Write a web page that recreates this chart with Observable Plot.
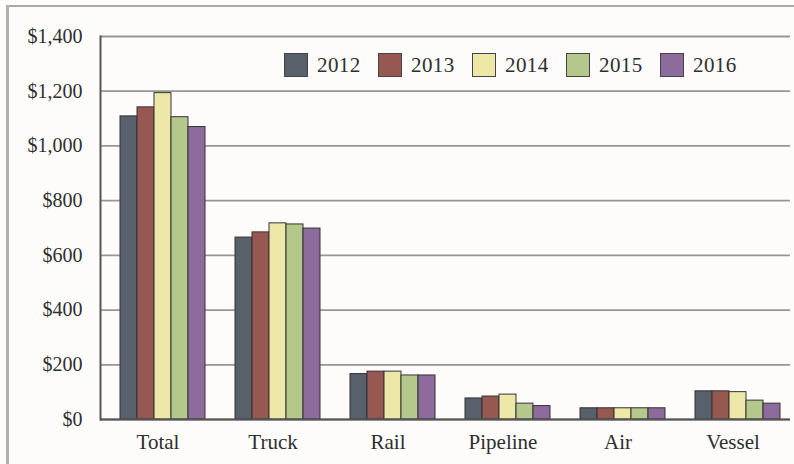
<!DOCTYPE html>
<html>
<head>
<meta charset="utf-8">
<script src="https://cdn.jsdelivr.net/npm/d3@7"></script>
<script src="https://cdn.jsdelivr.net/npm/@observablehq/plot@0.6"></script>
<style>
  html, body { margin: 0; padding: 0; background: #fdfcfa; }
  #wrap { position: relative; width: 794px; height: 464px; background: #fdfcfa; overflow: hidden; }
  .bTop { position: absolute; left: 6px; top: 5px; width: 788px; height: 2px; background: #a8a8a8; }
  .bLeft { position: absolute; left: 6px; top: 5px; width: 3px; height: 459px; background: #b0b0b0; }
  #legend { position: absolute; left: 284px; top: 53px; display: flex; font-family: "Liberation Serif", serif; font-size: 21px; color: #2e2e2e; letter-spacing: 0.4px; }
  #legend .item { width: 94px; display: flex; align-items: center; height: 24px; }
  #legend .sw { width: 24px; height: 24px; border: 1px solid #444; box-sizing: border-box; margin-right: 9px; }
</style>
</head>
<body>
<div id="wrap">
  <div class="bTop"></div>
  <div class="bLeft"></div>
  <div id="chart"></div>
  <div id="legend"></div>
</div>
<script>
const categories = ["Total", "Truck", "Rail", "Pipeline", "Air", "Vessel"];
const years = ["2012", "2013", "2014", "2015", "2016"];
const colors = ["#58606b", "#985852", "#ede8a8", "#b4c88b", "#8d6b9d"];
const v2012 = [1108, 665, 166, 77, 41, 103];
const v2013 = [1141, 684, 175, 84, 41, 103];
const v2014 = [1193, 717, 175, 91, 41, 100];
const v2015 = [1105, 713, 161, 58, 41, 69];
const v2016 = [1069, 698, 161, 49, 41, 58];
const yTicks = [0, 200, 400, 600, 800, 1000, 1200, 1400];

const series = [v2012, v2013, v2014, v2015, v2016];
const data = [];
categories.forEach((c, i) => {
  years.forEach((y, j) => data.push({category: c, year: y, value: series[j][i]}));
});

const fmt = d => "$" + d3.format(",")(d);

const chart = Plot.plot({
  width: 794,
  height: 464,
  marginLeft: 98,
  marginRight: 3,
  marginTop: 36,
  marginBottom: 45,
  style: {background: "transparent", fontFamily: "Liberation Serif, serif", color: "#333"},
  fx: {domain: categories, padding: 0, label: null},
  x: {domain: years, axis: null, paddingInner: 0, paddingOuter: 0.72, align: 0.66},
  y: {domain: [0, 1400], ticks: yTicks, label: null},
  color: {domain: years, range: colors},
  marks: [
    Plot.gridY(yTicks, {stroke: "#969696", strokeOpacity: 1, strokeWidth: 1.8}),
    Plot.barY(data, {fx: "category", x: "year", y: "value", fill: "year", stroke: "#333", strokeWidth: 1}),
    Plot.ruleY([0], {stroke: "#555", strokeWidth: 2}),
    Plot.frame({anchor: "left", facetAnchor: "left", stroke: "#555", strokeWidth: 2}),
    Plot.axisY(yTicks, {tickSize: 0, tickPadding: 18, tickFormat: fmt, fontSize: 20, fill: "#2e2e2e", label: null, style: "letter-spacing:0.8px"}),
    Plot.axisFx({anchor: "bottom", tickSize: 0, tickPadding: 15, fontSize: 21, fill: "#2e2e2e", label: null})
  ]
});
document.getElementById("chart").appendChild(chart);

const legend = document.getElementById("legend");
years.forEach((y, i) => {
  const item = document.createElement("div");
  item.className = "item";
  const sw = document.createElement("div");
  sw.className = "sw";
  sw.style.background = colors[i];
  const t = document.createElement("span");
  t.textContent = y;
  item.appendChild(sw);
  item.appendChild(t);
  legend.appendChild(item);
});
</script>
</body>
</html>
